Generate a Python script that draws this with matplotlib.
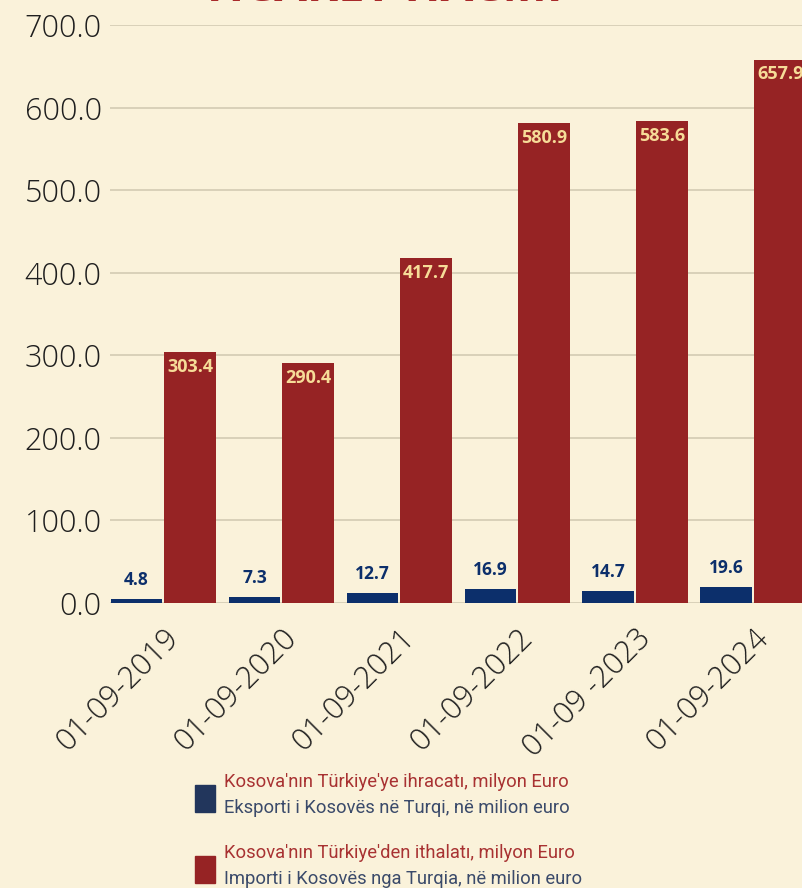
import matplotlib.pyplot as plt
from matplotlib.patches import Rectangle

dates = ['01-09-2019', '01-09-2020', '01-09-2021', '01-09-2022', '01-09 -2023', '01-09-2024']
exports = [4.8, 7.3, 12.7, 16.9, 14.7, 19.6]
imports = [303.4, 290.4, 417.7, 580.9, 583.6, 657.9]
yticks = [0, 100, 200, 300, 400, 500, 600, 700]

bg = '#FAF2DA'
navy = '#0C2F6B'
red = '#962324'
pale = '#F6DC98'

plt.rcParams['font.family'] = ['Open Sans', 'DejaVu Sans']

fig = plt.figure(figsize=(8.03, 8.88), dpi=100)
fig.patch.set_facecolor(bg)
ax = fig.add_axes([110 / 803, 1 - 603 / 888, 1 - 110 / 803, 578 / 888])
ax.set_facecolor(bg)

x = list(range(len(dates)))
w = 0.44
xn = [i - 0.225 for i in x]
xr = [i + 0.23 for i in x]
ax.bar(xn, exports, width=w, color=navy, zorder=3)
ax.bar(xr, imports, width=w, color=red, zorder=3)

for xi, v in zip(xn, exports):
    ax.annotate('%.1f' % v, (xi, v), xytext=(0, 7), textcoords='offset points',
                ha='center', va='bottom', color=navy, fontsize=12.5, fontweight='bold', zorder=4)
for xi, v in zip(xr, imports):
    ax.annotate('%.1f' % v, (xi, v), xytext=(0, -4), textcoords='offset points',
                ha='center', va='top', color=pale, fontsize=13, fontweight='bold', zorder=4)

ax.set_xlim(-0.45, 5.424)
ax.set_ylim(0, 700)
ax.set_yticks(yticks)
ax.set_yticklabels(['%.1f' % t for t in yticks], fontsize=22, fontweight='light', color='#1E1E1E')
ax.set_xticks(x)
ax.set_xticklabels(dates, rotation=45, ha='right', rotation_mode='anchor',
                   fontsize=22, fontweight='light', color='#1E1E1E')
ax.tick_params(length=0, pad=6)
ax.tick_params(axis='x', pad=14)
ax.grid(axis='y', color='#D3CBB3', linewidth=1.2, zorder=0)
for s in ax.spines.values():
    s.set_visible(False)

# title, mostly cut off by the top edge
fig.text(0.475, 1 - 1 / 888, 'TİCARET HACMİ', ha='center', va='baseline',
         fontsize=34, fontweight='bold', color='#A82A2A')

# legend
items = [('#22365C', "Kosova'nın Türkiye'ye ihracatı, milyon Euro", 'Eksporti i Kosovës në Turqi, në milion euro', 798),
         (red, "Kosova'nın Türkiye'den ithalatı, milyon Euro", 'Importi i Kosovës nga Turqia, në milion euro', 869)]
for col, l1, l2, yc in items:
    fig.patches.append(Rectangle((195 / 803, 1 - (yc + 14) / 888), 20 / 803, 27 / 888,
                                 transform=fig.transFigure, color=col))
    fig.text(224 / 803, 1 - (yc - 16) / 888, l1, fontsize=13.2, color='#A83232',
             family=['Roboto', 'DejaVu Sans'], va='center')
    fig.text(224 / 803, 1 - (yc + 10) / 888, l2, fontsize=13.2, color='#3A4A6A',
             family=['Roboto', 'DejaVu Sans'], va='center')

fig.savefig('out.png', dpi=100, facecolor=bg)
